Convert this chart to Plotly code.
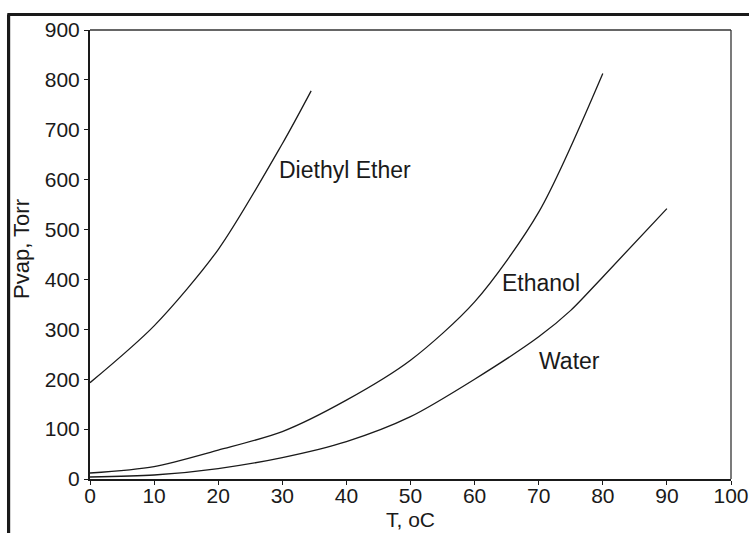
import plotly.graph_objects as go

# Data
ether_T = [0, 10, 20, 30, 34.5]
ether_P = [193, 307, 460, 672, 778]

ethanol_T = [0, 10, 20, 30, 40, 50, 60, 70, 80]
ethanol_P = [12, 25, 58, 95, 158, 238, 355, 535, 813]

water_T = [0, 10, 20, 30, 40, 50, 60, 70, 75, 80, 90]
water_P = [4, 8, 21, 43, 75, 125, 200, 285, 338, 405, 542]

x_ticks = [0, 10, 20, 30, 40, 50, 60, 70, 80, 90, 100]
y_ticks = [0, 100, 200, 300, 400, 500, 600, 700, 800, 900]

labels = [("Diethyl Ether", 29.2, 619), ("Ethanol", 64.0, 393), ("Water", 69.7, 236)]

FONT = "Liberation Sans, Arial, sans-serif"
INK = "#1a1a1a"
line_style = dict(color=INK, width=1.3, shape="spline", smoothing=0.8)

fig = go.Figure()
for name, T, P in [("Diethyl Ether", ether_T, ether_P),
                   ("Ethanol", ethanol_T, ethanol_P),
                   ("Water", water_T, water_P)]:
    fig.add_trace(go.Scatter(x=T, y=P, mode="lines", name=name, line=line_style,
                             showlegend=False, hoverinfo="skip"))

for text, x, y in labels:
    fig.add_annotation(x=x, y=y, text=text, showarrow=False, xanchor="left",
                       yanchor="middle", font=dict(family=FONT, size=23, color=INK))

# axis titles as annotations (paper coordinates)
fig.add_annotation(xref="paper", yref="paper", x=0.5, y=-0.0913, text="T, oC",
                   showarrow=False, xanchor="center", yanchor="middle", borderpad=0,
                   font=dict(family=FONT, size=21, color=INK))
fig.add_annotation(xref="paper", yref="paper", x=-0.108, y=0.512, text="Pvap, Torr",
                   showarrow=False, xanchor="center", yanchor="middle", textangle=-90,
                   font=dict(family=FONT, size=22, color=INK))

fig.update_layout(
    width=749, height=533,
    margin=dict(l=90, r=18, t=30, b=54, autoexpand=False),
    paper_bgcolor="white", plot_bgcolor="white",
    font=dict(family=FONT, color=INK),
    xaxis=dict(range=[0, 100], tickvals=x_ticks, ticks="outside", ticklen=4, tickwidth=1.2,
               tickcolor=INK, showline=True, linecolor=INK, linewidth=2, automargin=False,
               showgrid=False, zeroline=False, tickfont=dict(size=21),
               ticklabeloverflow="allow", ticklabelstandoff=-7),
    yaxis=dict(range=[0, 900], tickvals=y_ticks, ticks="outside", ticklen=4, tickwidth=1.2,
               tickcolor=INK, showline=True, linecolor=INK, linewidth=2, automargin=False,
               showgrid=False, zeroline=False, tickfont=dict(size=21),
               ticklabeloverflow="allow"),
    shapes=[
        # thin top and right plot border
        dict(type="line", xref="paper", yref="paper", x0=0, x1=1, y0=1, y1=1,
             line=dict(color="#333333", width=1.3)),
        dict(type="line", xref="paper", yref="paper", x0=1, x1=1, y0=0, y1=1,
             line=dict(color="#333333", width=1.3)),
        # outer thick frame (left and top)
        dict(type="line", xref="paper", yref="paper", x0=-0.127, x1=-0.127, y0=-0.2, y1=1.0345,
             line=dict(color=INK, width=3.2)),
        dict(type="line", xref="paper", yref="paper", x0=-0.129, x1=1.1, y0=1.0345, y1=1.0345,
             line=dict(color=INK, width=3)),
    ],
)

fig.write_html("out.html")
